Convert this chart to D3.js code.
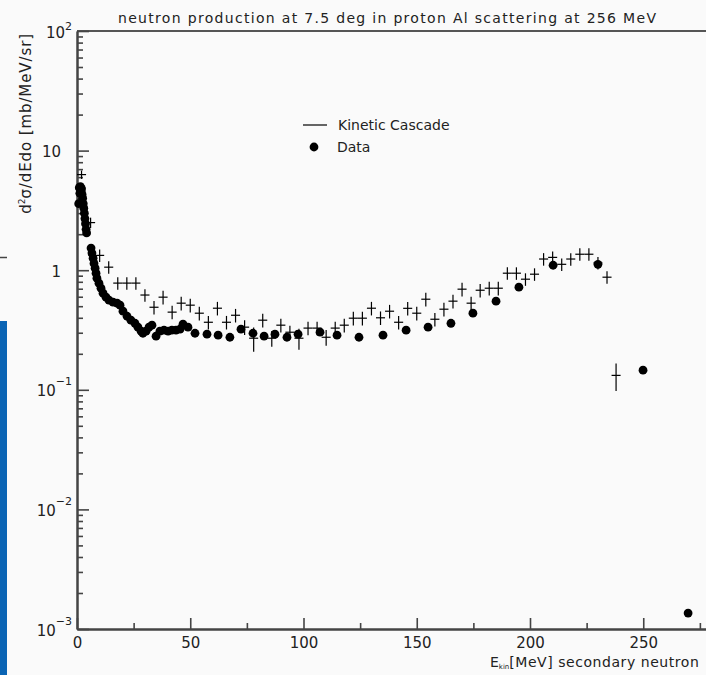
<!DOCTYPE html>
<html>
<head>
<meta charset="utf-8">
<script src="https://cdn.jsdelivr.net/npm/d3@7"></script>
<style>
  html, body { margin: 0; padding: 0; background: #fafafa; overflow: hidden; }
  svg { display: block; font-family: "DejaVu Sans", sans-serif; }
</style>
</head>
<body>
<svg id="chart" width="706" height="675"></svg>
<script>
// ---------------- DATA ----------------
const titleText = "neutron production at 7.5 deg in proton Al scattering at 256 MeV";
const legendLabels = ["Kinetic Cascade", "Data"];

// Measured data (filled circles)
const dataE = [0.75, 1.0, 1.25, 1.5, 1.75, 2.0, 2.25, 2.5, 2.75, 3.0, 3.25, 3.5, 3.75, 4.0, 4.25,
  6.2, 6.6, 7.1, 7.5, 8.0, 8.4, 8.8, 9.7, 10.6, 11.5, 12.8, 14.1, 15.9, 17.7, 19.0,
  20.3, 22.1, 23.8, 25.6, 26.9, 28.3, 29.1, 30.5, 31.8, 33.1, 34.9, 36.6, 38.4, 40.2,
  41.9, 43.7, 45.5, 46.8, 49.0, 52.1, 57.4, 62.3, 67.5, 72.4, 77.7, 82.6, 87.4, 92.7,
  97.6, 107.3, 114.8, 124.5, 135.1, 145.3, 155.0, 165.1, 174.8, 185.0, 195.1, 210.2,
  230.0, 249.9, 269.8];
const dataV = [3.6, 4.9, 4.4, 5.0, 4.6, 4.8, 4.3, 4.0, 3.6, 3.3, 3.0, 2.7, 2.45, 2.2, 2.05,
  1.53, 1.39, 1.26, 1.14, 1.04, 0.944, 0.857, 0.779, 0.707, 0.643, 0.595, 0.561, 0.540, 0.530, 0.510,
  0.454, 0.412, 0.382, 0.360, 0.334, 0.309, 0.297, 0.309, 0.334, 0.347, 0.281, 0.309, 0.315, 0.309,
  0.315, 0.315, 0.321, 0.354, 0.334, 0.297, 0.292, 0.286, 0.275, 0.321, 0.297, 0.281, 0.292, 0.275,
  0.292, 0.303, 0.286, 0.275, 0.286, 0.315, 0.334, 0.360, 0.437, 0.551, 0.721, 1.10,
  1.12, 0.146, 0.00136];

// Kinetic cascade model (crosses: 4 MeV bins, relative vertical error)
const modelE = [2, 6, 10, 14, 18, 22, 26, 30, 34, 38, 42, 46, 50, 54, 58, 62, 66, 70, 74, 78,
  82, 86, 90, 94, 98, 102, 106, 110, 114, 118, 122, 126, 130, 134, 138, 142, 146, 150, 154, 158,
  162, 166, 170, 174, 178, 182, 186, 190, 194, 198, 202, 206, 210, 214, 218, 222, 226, 230, 234, 238];
const modelV = [6.3, 2.5, 1.33, 1.06, 0.78, 0.78, 0.78, 0.62, 0.49, 0.595, 0.446, 0.53, 0.51, 0.437, 0.367, 0.481, 0.367, 0.42, 0.334, 0.27,
  0.382, 0.27, 0.347, 0.303, 0.27, 0.328, 0.328, 0.275, 0.328, 0.347, 0.397, 0.397, 0.481, 0.40, 0.454, 0.367, 0.48, 0.437, 0.572, 0.389,
  0.472, 0.551, 0.694, 0.53, 0.68, 0.707, 0.707, 0.944, 0.944, 0.841, 0.926, 1.24, 1.28, 1.12, 1.24, 1.36, 1.36, 1.15, 0.874, 0.132];
const modelRelErr = [0.08, 0.1, 0.12, 0.12, 0.12, 0.12, 0.12, 0.12, 0.13, 0.13, 0.13, 0.13, 0.13, 0.13, 0.13, 0.13, 0.13, 0.13, 0.14, 0.23,
  0.13, 0.15, 0.13, 0.13, 0.2, 0.13, 0.13, 0.15, 0.13, 0.13, 0.13, 0.13, 0.13, 0.13, 0.13, 0.13, 0.13, 0.13, 0.13, 0.13,
  0.13, 0.13, 0.13, 0.13, 0.13, 0.13, 0.13, 0.12, 0.12, 0.12, 0.12, 0.12, 0.12, 0.12, 0.12, 0.12, 0.12, 0.12, 0.12, 0.26];
const modelHalfBin = 2;

const xMajorTicks = [0, 50, 100, 150, 200, 250];
const xMinorTicks = [25, 75, 125, 175, 225, 275];
const yTickValues = [1e-3, 1e-2, 1e-1, 1, 10, 100];
const yTickBase = ["10", "10", "10", "1", "10", "10"];
const yTickSup  = ["\u22123", "\u22122", "\u22121", "", "", "2"];

// ---------------- CHART ----------------
const svg = d3.select("#chart");
const L = 77, T = 31, B = 629;
const x = d3.scaleLinear().domain([0, 300]).range([L, L + 300 * 2.265]);
const y = d3.scaleLog().domain([1e-3, 1e2]).range([B, T]);
const axisColor = "#444";

svg.append("rect").attr("width", 706).attr("height", 675).attr("fill", "#fafafa");
// decorative edge remnants
svg.append("rect").attr("x", 0).attr("y", 321).attr("width", 7).attr("height", 354).attr("fill", "#0a64b4");
svg.append("line").attr("x1", 0).attr("x2", 7).attr("y1", 257.5).attr("y2", 257.5).attr("stroke", "#444").attr("stroke-width", 1.5);

// frame top
svg.append("line").attr("x1", L).attr("x2", x(300)).attr("y1", T).attr("y2", T)
  .attr("stroke", "#555").attr("stroke-width", 2);

// X axis
const gx = svg.append("g").attr("transform", `translate(0,${B})`);
gx.call(d3.axisBottom(x).tickValues(xMajorTicks).tickSize(-11).tickSizeOuter(0).tickPadding(8).tickFormat(d3.format("d")));
gx.append("g").call(d3.axisBottom(x).tickValues(xMinorTicks).tickSize(-6).tickSizeOuter(0).tickFormat(""));
gx.selectAll("path.domain").attr("stroke", axisColor).attr("stroke-width", 2);
gx.selectAll(".tick line").attr("stroke", axisColor).attr("stroke-width", 1.6);
gx.selectAll(".tick text").attr("fill", "#222").attr("font-size", 15).attr("font-family", "DejaVu Sans");

// Y axis
const yMinor = y.ticks().filter(v => !yTickValues.some(t => Math.abs(t - v) / t < 1e-9));
const gy = svg.append("g").attr("transform", `translate(${L},0)`);
gy.call(d3.axisLeft(y).tickValues(yTickValues).tickSize(-12).tickSizeOuter(0).tickFormat(""));
gy.append("g").call(d3.axisLeft(y).tickValues(yMinor).tickSize(-6).tickSizeOuter(0).tickFormat(""));
gy.selectAll("path.domain").attr("stroke", axisColor).attr("stroke-width", 2);
gy.selectAll(".tick line").attr("stroke", axisColor).attr("stroke-width", 1.6);

// Y tick labels
yTickValues.forEach((v, i) => {
  const hasSup = yTickSup[i] !== "";
  const t = svg.append("text")
    .attr("x", hasSup ? 72 : 61)
    .attr("y", y(v) + 6.5)
    .attr("text-anchor", "end")
    .attr("font-size", 15).attr("fill", "#222");
  t.append("tspan").text(yTickBase[i]);
  if (hasSup) {
    t.append("tspan").attr("font-size", 11).attr("dy", yTickSup[i] === "2" ? -8 : -11).text(yTickSup[i]);
  }
});

// Title
svg.append("text").attr("x", 118).attr("y", 23).attr("font-size", 14).attr("fill", "#222")
  .attr("textLength", 538).text(titleText);

// X axis title
const xt = svg.append("text").attr("x", 490).attr("y", 667).attr("font-size", 14).attr("fill", "#222");
xt.append("tspan").text("E");
xt.append("tspan").attr("font-size", 7).attr("dy", 2).text("kin");
xt.append("tspan").attr("dy", -2).attr("letter-spacing", 0.55).text("[MeV] secondary neutron");

// Y axis title
const yt = svg.append("text").attr("transform", "translate(31,33) rotate(-90)")
  .attr("text-anchor", "end").attr("font-size", 15).attr("fill", "#222");
yt.append("tspan").text("d");
yt.append("tspan").attr("font-size", 9).attr("dy", -6).text("2");
yt.append("tspan").attr("dy", 6).attr("letter-spacing", 0.9).text("\u03c3/dEdo [mb/MeV/sr]");

// Model crosses
const model = modelE.map((e, i) => ({ e, v: modelV[i], r: modelRelErr[i] }));
const gm = svg.append("g").attr("stroke", "#000").attr("stroke-width", 1.2);
gm.selectAll("line.h").data(model).join("line").attr("class", "h")
  .attr("x1", d => x(d.e - modelHalfBin)).attr("x2", d => x(d.e + modelHalfBin))
  .attr("y1", d => y(d.v)).attr("y2", d => y(d.v));
gm.selectAll("line.v").data(model).join("line").attr("class", "v")
  .attr("x1", d => x(d.e)).attr("x2", d => x(d.e))
  .attr("y1", d => y(d.v * (1 - d.r))).attr("y2", d => y(d.v * (1 + d.r)));

// Data points
const data = dataE.map((e, i) => ({ e, v: dataV[i] }));
svg.append("g").selectAll("circle").data(data).join("circle")
  .attr("cx", d => x(d.e)).attr("cy", d => y(d.v)).attr("r", 4.4).attr("fill", "#000");

// Legend
svg.append("line").attr("x1", 303).attr("x2", 327).attr("y1", 125).attr("y2", 125)
  .attr("stroke", "#000").attr("stroke-width", 1.2);
svg.append("text").attr("x", 338).attr("y", 130).attr("font-size", 14).attr("fill", "#222").text(legendLabels[0]);
svg.append("circle").attr("cx", 314).attr("cy", 147).attr("r", 4.4).attr("fill", "#000");
svg.append("text").attr("x", 337).attr("y", 152).attr("font-size", 14).attr("fill", "#222").text(legendLabels[1]);
</script>
</body>
</html>
